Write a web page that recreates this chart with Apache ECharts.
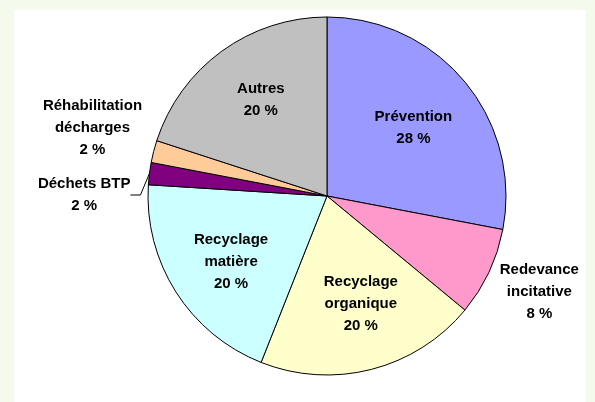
<!DOCTYPE html>
<html>
<head>
<meta charset="utf-8">
<script src="https://cdn.jsdelivr.net/npm/echarts@6/dist/echarts.min.js"></script>
<style>
html,body{margin:0;padding:0;background:#F4FAEC;}
#chart{width:595px;height:402px;}
</style>
</head>
<body>
<div id="chart"></div>
<script>
// ---- data ----
const categories = ['Prévention', 'Redevance incitative', 'Recyclage organique', 'Recyclage matière', 'Déchets BTP', 'Réhabilitation décharges', 'Autres'];
const labelLines = [['Prévention'], ['Redevance', 'incitative'], ['Recyclage', 'organique'], ['Recyclage', 'matière'], ['Déchets BTP'], ['Réhabilitation', 'décharges'], ['Autres']];
const values = [28, 8, 20, 20, 2, 2, 20];
const outerLabelled = ['Redevance incitative', 'Réhabilitation décharges'];
const leaderLabelled = ['Déchets BTP'];

// ---- styles ----
const colors = ['#9999FF', '#FF99CC', '#FFFFCC', '#CCFFFF', '#800080', '#FFCC99', '#C0C0C0'];
const labelOffsets = {
  'Prévention': [-3, 6], 'Autres': [2, -2], 'Recyclage organique': [5, -4], 'Recyclage matière': [2, 4],
  'Redevance incitative': [-3, -5], 'Réhabilitation décharges': [-4, -9]
};
const CENTER = [327, 196];
const R = 179;
const font = { fontFamily: 'Liberation Sans, Arial, sans-serif', fontWeight: 'bold', fontSize: 15, lineHeight: 22, color: '#000' };

function labelText(i) {
  return labelLines[i].concat([values[i] + ' %']).map(s => '{c|' + s + '}').join('\n');
}
const rich = { c: Object.assign({ align: 'center' }, font) };

const chart = echarts.init(document.getElementById('chart'));

const mainData = categories.map((name, i) => {
  const isLeader = leaderLabelled.includes(name);
  return {
    name, value: values[i],
    itemStyle: { color: colors[i] },
    label: isLeader ? { show: true, position: 'outside', formatter: labelText(i), rich, distanceToLabelLine: 5 } : { show: false },
    labelLine: isLeader ? { show: true, length: 4, length2: 10, lineStyle: { color: '#000', width: 1 } } : { show: false }
  };
});

function ghostData(filter) {
  return categories.map((name, i) => ({
    name, value: values[i],
    label: filter(name) ? { show: true, formatter: labelText(i), offset: labelOffsets[name] || [0, 0] } : { show: false }
  }));
}

const ghostBase = {
  type: 'pie', center: CENTER, startAngle: 90, clockwise: true, silent: true,
  itemStyle: { color: 'rgba(0,0,0,0)', borderWidth: 0 },
  emphasis: { disabled: true }, animation: false,
  label: Object.assign({ position: 'inside', rich }, font),
  labelLine: { show: false }
};

chart.setOption({
  backgroundColor: '#F4FAEC',
  animation: false,
  graphic: [{ type: 'rect', shape: { x: 14, y: 10, width: 572, height: 400 }, style: { fill: '#FFFFFF' }, z: -10 }],
  series: [
    {
      type: 'pie', center: CENTER, radius: R, startAngle: 90, clockwise: true,
      avoidLabelOverlap: false, animation: false, silent: true,
      itemStyle: { borderColor: '#000', borderWidth: 1 },
      emphasis: { disabled: true },
      label: Object.assign({ rich }, font),
      data: mainData,
      labelLayout: function (p) {
        if (leaderLabelled.includes(categories[p.dataIndex])) {
          return { y: 195 };
        }
      }
    },
    Object.assign({}, ghostBase, { radius: [47, R], data: ghostData(n => !outerLabelled.includes(n) && !leaderLabelled.includes(n)) }),
    Object.assign({}, ghostBase, { radius: [180, 290], data: ghostData(n => outerLabelled.includes(n)) })
  ]
});
</script>
</body>
</html>
